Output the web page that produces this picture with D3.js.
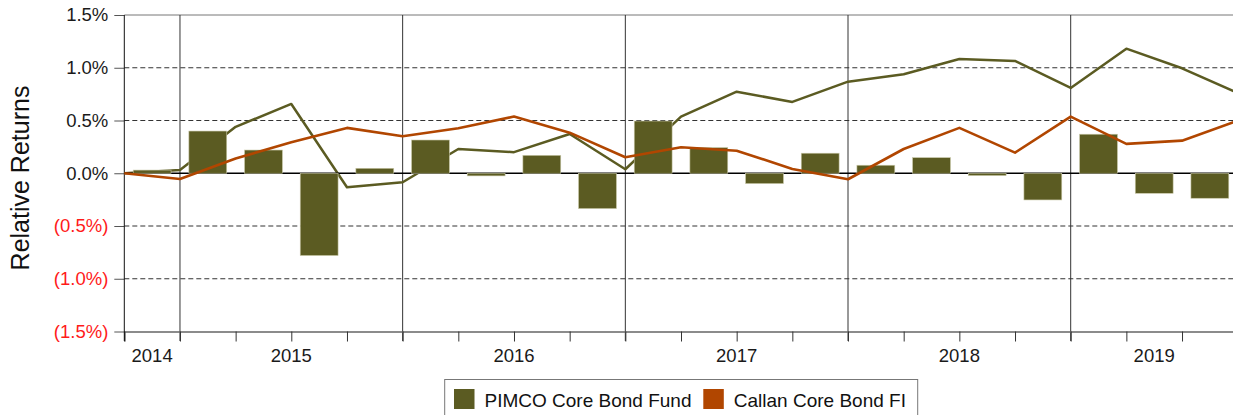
<!DOCTYPE html>
<html><head><meta charset="utf-8">
<script src="https://cdn.jsdelivr.net/npm/d3@7"></script>
<style>body{margin:0;background:#fff}svg{display:block}text{font-family:"Liberation Sans",Arial,sans-serif}</style>
</head><body>
<svg id="chart" width="1233" height="415"></svg>
<script>
const quarters = ["2014 Q4","2015 Q1","2015 Q2","2015 Q3","2015 Q4","2016 Q1","2016 Q2","2016 Q3","2016 Q4","2017 Q1","2017 Q2","2017 Q3","2017 Q4","2018 Q1","2018 Q2","2018 Q3","2018 Q4","2019 Q1","2019 Q2","2019 Q3"];
const fundBars = [0.03,0.40,0.22,-0.78,0.047,0.315,-0.025,0.17,-0.335,0.495,0.243,-0.098,0.19,0.076,0.148,-0.022,-0.253,0.37,-0.19,-0.237];
const fundLine = [0,0.03,0.44,0.657,-0.133,-0.085,0.23,0.20,0.372,0.038,0.537,0.773,0.676,0.868,0.938,1.083,1.065,0.809,1.181,0.995,0.76];
const callanLine = [0,-0.054,0.14,0.294,0.43,0.35,0.426,0.537,0.385,0.152,0.246,0.214,0.041,-0.057,0.23,0.43,0.195,0.537,0.278,0.309,0.497];
const yTicks = [-1.5,-1.0,-0.5,0,0.5,1.0,1.5];
const seriesNames = ["PIMCO Core Bond Fund","Callan Core Bond FI"];
const colors = ["#5b5b22","#b14600"];

const svg = d3.select("#chart");
const x0 = 124.3, step = 55.67, n = quarters.length;
const xLin = d3.scaleLinear().domain([0,n]).range([x0, x0+step*n]);
const xBand = d3.scaleBand().domain(quarters).range([x0, x0+step*n]).paddingInner(0.32).paddingOuter(0.16);
const y = d3.scaleLinear().domain([-1.5,1.5]).range([331.5,15]);
const plotRight = 1233;

// grid lines
svg.append("g").selectAll("line").data(yTicks.filter(v=>v!==0 && Math.abs(v)<1.5)).join("line")
  .attr("x1",x0).attr("x2",plotRight).attr("y1",d=>y(d)).attr("y2",d=>y(d))
  .attr("stroke","#333").attr("stroke-width",1).attr("stroke-dasharray","5,3");
// top border
svg.append("line").attr("x1",x0).attr("x2",plotRight).attr("y1",y(1.5)).attr("y2",y(1.5)).attr("stroke","#777").attr("stroke-width",1);

// year boundary lines
const yearStarts = d3.range(n).filter(i=>quarters[i].endsWith("Q1"));
svg.append("g").selectAll("line").data(yearStarts).join("line")
  .attr("x1",d=>xLin(d)).attr("x2",d=>xLin(d)).attr("y1",y(1.5)).attr("y2",341)
  .attr("stroke","#333").attr("stroke-width",1);

// x axis
const xAxis = d3.axisBottom(xLin).tickValues(d3.range(0,n+1)).tickSize(10).tickFormat("");
const gx = svg.append("g").attr("transform",`translate(0,${y(-1.5)})`).call(xAxis);
gx.select(".domain").attr("stroke","#666").attr("stroke-width",1.3);
gx.selectAll(".tick line").attr("stroke","#333");

// year labels
const years = Array.from(new Set(quarters.map(q=>q.slice(0,4))));
svg.append("g").selectAll("text").data(years).join("text")
  .attr("x",yr=>{const idx=d3.range(n).filter(i=>quarters[i].startsWith(yr));return (xLin(d3.min(idx))+xLin(d3.max(idx)+1))/2;})
  .attr("y",361.7).attr("text-anchor","middle").attr("font-size","18.5px").attr("fill","#1a1a1a").text(d=>d);

// y axis
const yAxis = d3.axisLeft(y).tickValues(yTicks).tickSize(10).tickPadding(6)
  .tickFormat(v=> v<0 ? "(" + d3.format(".1f")(-v) + "%)" : d3.format(".1f")(v)+"%");
const gy = svg.append("g").attr("transform",`translate(${x0},0)`).call(yAxis);
gy.select(".domain").remove();
gy.selectAll(".tick line").attr("stroke","#555");
gy.selectAll(".tick text").attr("font-size","18.5px").attr("font-family","Liberation Sans, Arial, sans-serif")
  .attr("fill",d=>d<0?"#ff1a1a":"#1a1a1a");
svg.append("line").attr("x1",x0).attr("x2",x0).attr("y1",y(1.5)).attr("y2",341).attr("stroke","#111").attr("stroke-width",1);

// fund line (under bars)
const line = d3.line().x((d,i)=>xLin(i)).y(d=>y(d));
svg.append("path").datum(fundLine).attr("d",line).attr("fill","none").attr("stroke",colors[0]).attr("stroke-width",2.5).attr("stroke-linejoin","round");

// zero line
svg.append("line").attr("x1",x0).attr("x2",plotRight).attr("y1",y(0)).attr("y2",y(0)).attr("stroke","#000").attr("stroke-width",1.5);

// bars
svg.append("g").selectAll("rect").data(fundBars).join("rect")
  .attr("x",(d,i)=>xBand(quarters[i])).attr("width",xBand.bandwidth())
  .attr("y",d=>y(Math.max(0,d))).attr("height",d=>Math.abs(y(d)-y(0)))
  .attr("fill",colors[0]).attr("stroke","#c9c8a8").attr("stroke-width",0.6);

// callan line (over bars)
svg.append("path").datum(callanLine).attr("d",line).attr("fill","none").attr("stroke",colors[1]).attr("stroke-width",2.6).attr("stroke-linejoin","round");

// axis title
svg.append("text").attr("transform","translate(29,178) rotate(-90)").attr("text-anchor","middle")
  .attr("font-size","25px").attr("fill","#111").text("Relative Returns");

// legend
const lg = svg.append("g");
lg.append("rect").attr("x",444.7).attr("y",379.5).attr("width",473).attr("height",50).attr("fill","#fff").attr("stroke","#777").attr("stroke-width",1);
const legX = [454, 703.3];
seriesNames.forEach((s,i)=>{
  lg.append("rect").attr("x",legX[i]).attr("y",389).attr("width",20.5).attr("height",20).attr("fill",colors[i]);
  lg.append("text").attr("x",legX[i]+30.5).attr("y",406.5).attr("font-size","19px").attr("fill","#111").text(s);
});
</script>
</body></html>
